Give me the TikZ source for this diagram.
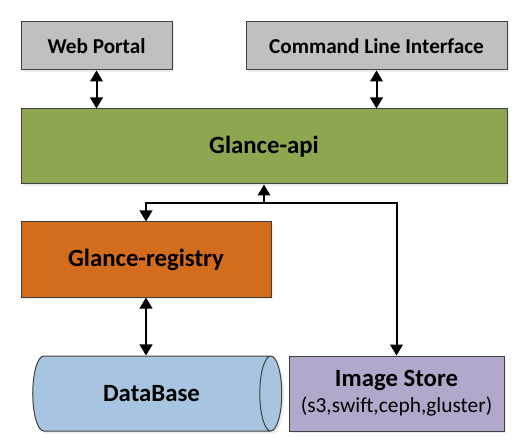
\documentclass[tikz,border=0pt]{standalone}
\usepackage{fontspec}
\setmainfont{Carlito}
\usetikzlibrary{arrows.meta,shapes.geometric,shadows}
\definecolor{portalgray}{HTML}{C0C0C0}
\definecolor{apigreen}{HTML}{8FA651}
\definecolor{regorange}{HTML}{D36C1C}
\definecolor{dbblue}{HTML}{A7C5E0}
\definecolor{storepurple}{HTML}{B4A7CC}
\definecolor{edgegray}{HTML}{404040}
\begin{document}
\begin{tikzpicture}[x=0.5pt,y=-0.5pt,
	box/.style={draw=edgegray, line width=0.5pt, inner sep=0pt,
		drop shadow={shadow xshift=1.2pt, shadow yshift=-1.2pt, fill=black!15}},
	link/.style={line width=1pt, {Triangle[length=5.5pt,width=6.3pt]}-{Triangle[length=5.5pt,width=6.3pt]}},
	uplink/.style={line width=1pt, -{Triangle[length=5.5pt,width=6.3pt]}}]
	\useasboundingbox (0,0) rectangle (520,444);
	
	% Draw clients
	\node[box, fill=portalgray, minimum width=75.5pt, minimum height=24pt,
		font=\bfseries\fontsize{10.6}{12}\selectfont] (web) at (96.5,46) {Web Portal};
	\node[box, fill=portalgray, minimum width=130.5pt, minimum height=24pt,
		font=\bfseries\fontsize{10.6}{12}\selectfont] (cli) at (376.5,46) {Command Line Interface};
	
	% Draw api and registry
	\node[box, fill=apigreen, minimum width=243pt, minimum height=37.5pt,
		font=\bfseries\fontsize{12.4}{14}\selectfont] (api) at (264,146.5) {Glance-api};
	\node[box, fill=regorange, minimum width=125pt, minimum height=37.5pt,
		font=\bfseries\fontsize{12.4}{14}\selectfont] (reg) at (146,259.5) {Glance-registry};
	
	% Draw storage
	\node[box, cylinder, shape aspect=1.35, fill=dbblue, minimum width=37.5pt, minimum height=124.5pt,
		font=\bfseries\fontsize{12.4}{14}\selectfont] (db) at (151.5,393.5) {DataBase};
	\node[box, fill=storepurple, minimum width=107.5pt, minimum height=37.5pt, align=center] (store) at (396.5,393.5)
		{{\bfseries\fontsize{12.4}{15}\selectfont Image Store}\\[1pt]{\fontsize{10.7}{13}\selectfont (s3,swift,ceph,gluster)}};
	
	% Draw connections
	\coordinate (j) at (264,203); % Junction below api
	\draw[link] (web.south) -- (web.south |- api.north);
	\draw[link] (cli.south) -- (cli.south |- api.north);
	\draw[uplink] (j) -- (api.south);
	\draw[uplink] (j) -| (reg.north);
	\draw[uplink] (j) -| (store.north);
	\draw[link] (reg.south) -- (reg.south |- db.north);
\end{tikzpicture}
\end{document}
